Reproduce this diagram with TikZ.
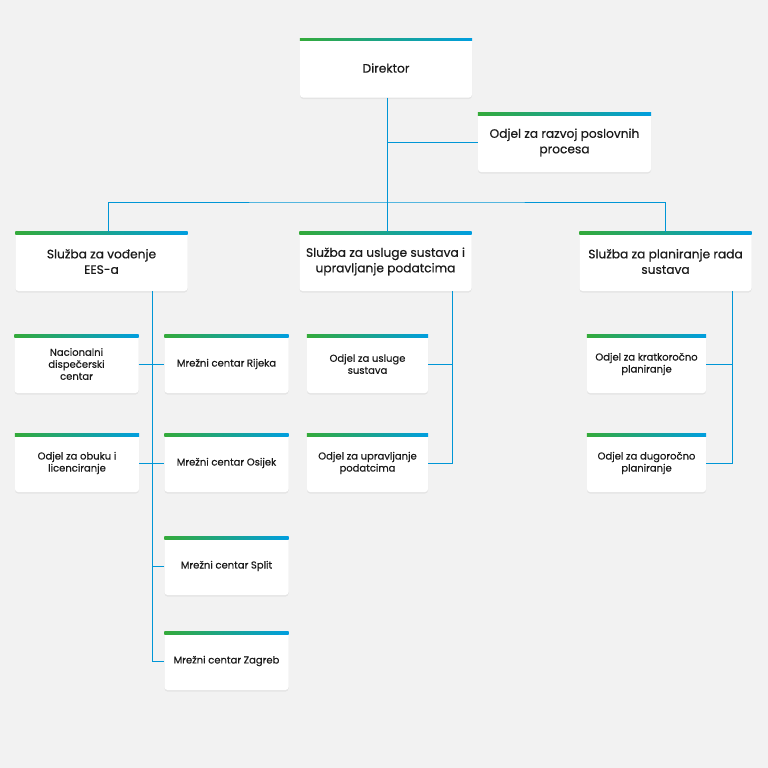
\documentclass[tikz,border=0pt]{standalone}
\usepackage{fontspec}
\setmainfont{Poppins}[FakeBold=0.5]
\usetikzlibrary{positioning, shadows}
\definecolor{pagegray}{RGB}{242, 242, 242}
\definecolor{linkblue}{RGB}{0, 150, 214}
\definecolor{bargreen}{RGB}{52, 170, 58}
\definecolor{barblue}{RGB}{0, 158, 224}
\definecolor{textblack}{RGB}{26, 26, 26}

\begin{document}
\begin{tikzpicture}[x=1pt, y=-1pt,
        unit/.style={draw=none, fill=white, rounded corners=3pt, inner sep=0pt,
            align=center, text=textblack,
            drop shadow={shadow xshift=0pt, shadow yshift=-1.5pt, opacity=.12}},
        mainunit/.style={unit, minimum width=172pt, minimum height=59pt,
            font=\fontsize{12.2}{15.5}\selectfont},
        subunit/.style={unit, minimum width=124pt, minimum height=58pt,
            font=\fontsize{10}{12}\selectfont},
        link/.style={draw=linkblue, line width=1pt}]
    % Background and page size
    \fill[pagegray] (0,0) rectangle (768,768);
    \useasboundingbox (0,0) rectangle (768,768);

    % Top of the chart
    \node[mainunit] (dir) at (386,68) {Direktor};
    \node[mainunit, minimum width=173pt] (razvoj) at (564.5,142.5) {Odjel za razvoj poslovnih\\procesa};

    % Services
    \node[mainunit] (vod) at (101.5,261.5) {Služba za vođenje\\EES-a};
    \node[mainunit] (usl) at (385.5,261.5) {Služba za usluge sustava i\\upravljanje podatcima};
    \node[mainunit] (plan) at (665.5,261.5) {Služba za planiranje rada\\sustava};

    % Departments under the first service
    \node[subunit] (nac) at (76.5,364) {Nacionalni\\dispečerski\\centar};
    \node[subunit] (obuka) at (77,463) {Odjel za obuku i\\licenciranje};
    \node[subunit] (rijeka) at (226.5,364) {Mrežni centar Rijeka};
    \node[subunit] (osijek) at (226.5,463) {Mrežni centar Osijek};
    \node[subunit] (split) at (226.5,566) {Mrežni centar Split};
    \node[subunit] (zagreb) at (226.5,661) {Mrežni centar Zagreb};

    % Departments under the other services
    \node[subunit, minimum width=121pt] (usluge) at (367.5,364) {Odjel za usluge\\sustava};
    \node[subunit, minimum width=121pt] (podaci) at (367.5,463) {Odjel za upravljanje\\podatcima};
    \node[subunit, minimum width=119pt] (kratko) at (646.5,364) {Odjel za kratkoročno\\planiranje};
    \node[subunit, minimum width=119pt] (dugo) at (646.5,463) {Odjel za dugoročno\\planiranje};

    % Green to blue bar on top of every box
    \foreach \n in {dir, razvoj, vod, usl, plan, nac, obuka, rijeka, osijek, split,
                    zagreb, usluge, podaci, kratko, dugo}
        \shade[left color=bargreen, right color=barblue]
            (\n.north west) rectangle ([yshift=-2.2pt]\n.north east);

    % Connectors
    \coordinate (bar) at (387,202);
    \coordinate (vodtop) at (108,232);
    \coordinate (vodline) at (152,291);
    \coordinate (uslline) at (452,291);
    \coordinate (planline) at (732,291);
    \draw[link] (dir.south -| bar) -- (bar |- usl.north);
    \draw[link] (razvoj.west) -- (razvoj.west -| bar);
    \draw[link] (vodtop) |- (bar) -| (plan.north);
    \draw[link] (vodline) |- (zagreb.west);
    \draw[link] (nac.east) -- (rijeka.west);
    \draw[link] (obuka.east) -- (osijek.west);
    \draw[link] (split.west) -- (split.west -| vodline);
    \draw[link] (uslline) |- (podaci.east);
    \draw[link] (usluge.east) -- (usluge.east -| uslline);
    \draw[link] (planline) |- (dugo.east);
    \draw[link] (kratko.east) -- (kratko.east -| planline);
\end{tikzpicture}
\end{document}
